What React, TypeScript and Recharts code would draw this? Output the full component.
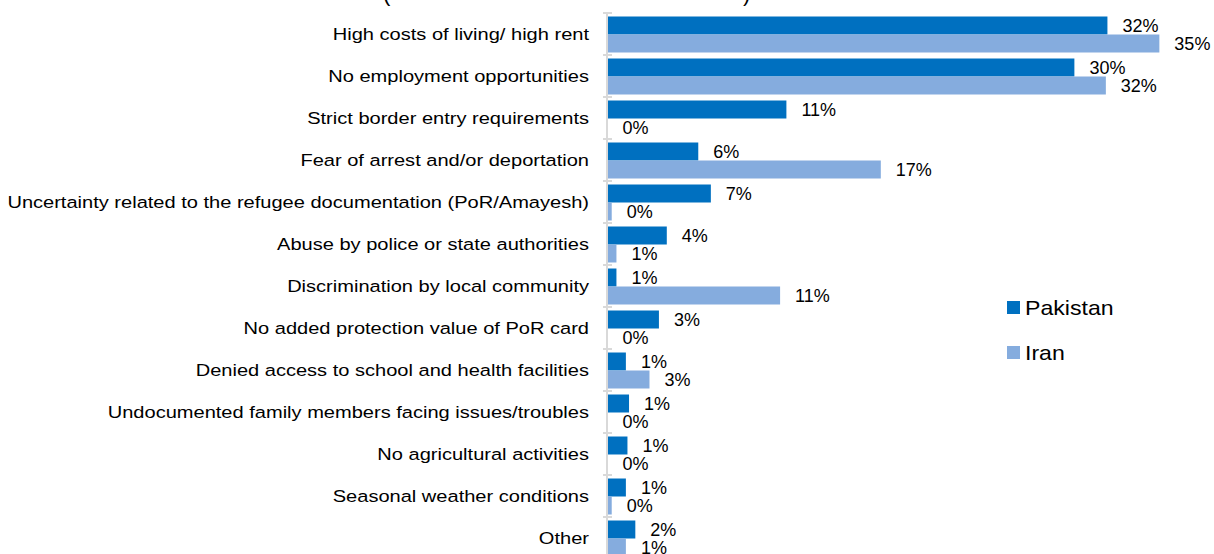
import { BarChart, Bar, XAxis, YAxis, Legend, LabelList } from 'recharts';

const categories = [
  'High costs of living/ high rent',
  'No employment opportunities',
  'Strict border entry requirements',
  'Fear of arrest and/or deportation',
  'Uncertainty related to the refugee documentation (PoR/Amayesh)',
  'Abuse by police or state authorities',
  'Discrimination by local community',
  'No added protection value of PoR card',
  'Denied access to school and health facilities',
  'Undocumented family members facing issues/troubles',
  'No agricultural activities',
  'Seasonal weather conditions',
  'Other',
];

const pakistan = [31.8, 29.7, 11.4, 5.8, 6.6, 3.8, 0.6, 3.3, 1.2, 1.4, 1.3, 1.2, 1.8];
const iran = [35.1, 31.7, 0, 17.4, 0.3, 0.6, 11.0, 0, 2.7, 0, 0, 0.3, 1.2];

const seriesNames = ['Pakistan', 'Iran'];
const seriesColors = ['#0070C0', '#85ACDE'];

const data = categories.map((name, i) => ({
  name,
  Pakistan: pakistan[i],
  Iran: iran[i],
}));

const CHART_W = 1214;
const CHART_H = 570;
const MARGIN = { top: 13, right: 9, bottom: 11, left: 0 };
const PLOT_H = CHART_H - MARGIN.top - MARGIN.bottom;
const BAND = PLOT_H / categories.length;
const TICK_MARGIN = 18;
const FONT = '"Liberation Sans", Arial, sans-serif';

function CategoryTick(props: any) {
  const { x, y, payload } = props;
  const axisX = x + TICK_MARGIN;
  return (
    <g>
      <line x1={axisX - 4} x2={axisX + 5} y1={y - BAND / 2} y2={y - BAND / 2} stroke="#d9d9d9" strokeWidth={2} />
      <g transform={`translate(${x},${y}) scale(1.18,1)`}>
        <text x={0} y={0} dy="0.35em" textAnchor="end" fontSize={17} fontFamily={FONT} fill="#000">
          {payload.value}
        </text>
      </g>
    </g>
  );
}

function renderLegend() {
  return (
    <div style={{ fontFamily: FONT }}>
      {seriesNames.map((s, i) => (
        <div key={s} style={{ display: 'flex', alignItems: 'center', height: 45 }}>
          <span style={{ display: 'inline-block', width: 13, height: 13, background: seriesColors[i], marginRight: 5 }} />
          <span
            style={{
              display: 'inline-block',
              fontSize: 21,
              lineHeight: 1,
              color: '#000',
              transform: 'scaleX(1.1)',
              transformOrigin: 'left center',
            }}
          >
            {s}
          </span>
        </div>
      ))}
    </div>
  );
}

const pct = (v: any) => `${Math.round(Number(v))}%`;
// zero values still need a (hidden) bar so their "0%" label gets drawn
const minSize = (v: any) => (Number(v) === 0 ? 0.5 : 0);

export default function App() {
  return (
    <div style={{ position: 'absolute', left: 0, top: 0, width: CHART_W, height: 554, overflow: 'hidden', background: '#fff' }}>
      <svg style={{ position: 'absolute', left: 0, top: 0 }} width={CHART_W} height={20}>
        <text x={383} y={0.5} fontSize={22} fontFamily={FONT} fill="#000">(</text>
        <text x={743} y={0.5} fontSize={22} fontFamily={FONT} fill="#000">)</text>
      </svg>
      <BarChart
        width={CHART_W}
        height={CHART_H}
        data={data}
        layout="vertical"
        margin={MARGIN}
        barCategoryGap={3.5}
        barGap={0}
      >
        <XAxis type="number" domain={[0, 38]} hide />
        <YAxis
          type="category"
          dataKey="name"
          width={607}
          axisLine={{ stroke: '#d9d9d9', strokeWidth: 2 }}
          tickLine={false}
          tickSize={0}
          tickMargin={TICK_MARGIN}
          interval={0}
          tick={<CategoryTick />}
        />
        <Legend
          layout="vertical"
          align="center"
          verticalAlign="middle"
          content={renderLegend}
          wrapperStyle={{ left: 1007, top: 285, width: 200 }}
        />
        {seriesNames.map((s, i) => (
          <Bar key={s} dataKey={s} fill={seriesColors[i]} minPointSize={minSize} isAnimationActive={false}>
            <LabelList
              dataKey={s}
              position="right"
              offset={15}
              formatter={pct}
              fontSize={18}
              fontFamily={FONT}
              fill="#000"
            />
          </Bar>
        ))}
      </BarChart>
    </div>
  );
}
